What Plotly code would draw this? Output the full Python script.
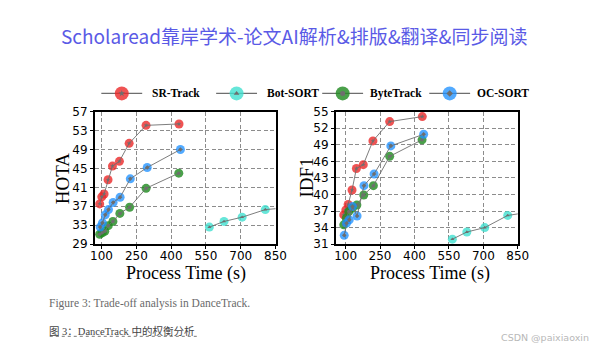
import plotly.graph_objects as go

# ---------------- data ----------------
methods = ["SR-Track", "Bot-SORT", "ByteTrack", "OC-SORT"]

time_sr = [92, 101, 111, 128, 147, 177, 219, 292, 434]
hota_sr = [37.5, 39.0, 39.6, 42.6, 45.5, 46.5, 50.3, 54.1, 54.4]
idf1_sr = [36.3, 37.2, 38.2, 40.8, 44.7, 45.4, 49.7, 53.2, 54.1]

time_bot = [565, 628, 706, 806, 900]
hota_bot = [32.6, 33.8, 34.7, 36.3, 36.7]
idf1_bot = [31.9, 33.2, 34.0, 36.2, 36.8]

time_bt = [92, 103, 114, 129, 149, 179, 221, 292, 433]
hota_bt = [31.1, 31.4, 31.7, 32.9, 33.8, 35.5, 36.8, 40.8, 44.0]
idf1_bt = [34.5, 35.7, 36.9, 37.5, 38.1, 39.9, 41.6, 46.9, 49.9]

time_oc = [94, 104, 116, 130, 150, 180, 224, 297, 440]
hota_oc = [32.6, 33.5, 35.2, 36.3, 37.8, 38.9, 42.8, 45.2, 49.0]
idf1_oc = [32.6, 34.8, 35.4, 37.8, 36.1, 41.6, 43.7, 48.8, 50.9]

x_ticks = [100, 250, 400, 550, 700, 850]
hota_ticks = [29, 33, 37, 41, 45, 49, 53, 57]
idf1_ticks = [31, 34, 37, 40, 43, 46, 49, 52, 55]

# ---------------- styles ----------------
colors = {"SR-Track": "rgba(235,40,40,0.8)",
          "Bot-SORT": "rgba(64,224,208,0.8)",
          "ByteTrack": "rgba(34,139,34,0.82)",
          "OC-SORT": "rgba(30,144,255,0.77)"}
inner = {"SR-Track": "star", "Bot-SORT": "triangle-up",
         "ByteTrack": "circle", "OC-SORT": "diamond"}
GRAY = "#6e6e6e"

series = [
    ("SR-Track", time_sr, hota_sr, idf1_sr),
    ("Bot-SORT", time_bot, hota_bot, idf1_bot),
    ("ByteTrack", time_bt, hota_bt, idf1_bt),
    ("OC-SORT", time_oc, hota_oc, idf1_oc),
]

W, H = 594, 351
def px(x):
    return x / W
def py(y):
    return 1 - y / H

fig = go.Figure()

for name, t, h, f in series:
    for xa, ya, yv in (("x", "y", h), ("x2", "y2", f)):
        fig.add_trace(go.Scatter(x=t, y=yv, xaxis=xa, yaxis=ya, mode="markers",
                                 marker=dict(size=9, color=colors[name], line=dict(width=0)),
                                 showlegend=False, hoverinfo="skip"))
        fig.add_trace(go.Scatter(x=t, y=yv, xaxis=xa, yaxis=ya, mode="lines+markers",
                                 line=dict(color=GRAY, width=0.9),
                                 marker=dict(size=3.5, color=GRAY, symbol=inner[name]),
                                 showlegend=False, hoverinfo="skip"))

# legend (drawn on an overlay pixel axis limited to the legend band)
LEG_TOP, LEG_BOT = 78, 102
legend_centers = [120, 238, 347, 457]   # layout: circle centre of each entry (px)
legend_text_gap = [30, 30, 27, 27]
LEG_Y = 90
ann = []
for (name, t, h, f), cx, gap in zip(series, legend_centers, legend_text_gap):
    fig.add_trace(go.Scatter(x=[cx - 21, cx + 21], y=[LEG_Y, LEG_Y], xaxis="x3", yaxis="y3",
                             mode="lines", line=dict(color=GRAY, width=1.2),
                             showlegend=False, hoverinfo="skip"))
    fig.add_trace(go.Scatter(x=[cx], y=[LEG_Y], xaxis="x3", yaxis="y3", mode="markers",
                             marker=dict(size=14, color=colors[name]),
                             showlegend=False, hoverinfo="skip"))
    fig.add_trace(go.Scatter(x=[cx], y=[LEG_Y], xaxis="x3", yaxis="y3", mode="markers",
                             marker=dict(size=5, color=GRAY, symbol=inner[name]),
                             showlegend=False, hoverinfo="skip"))
    ann.append(dict(text=name, x=cx + gap, y=LEG_Y, xref="x3", yref="y3",
                    xanchor="left", yanchor="middle", showarrow=False, borderpad=0,
                    font=dict(family="Liberation Serif", size=11.5, color="black", weight="bold")))

axis_common = dict(showline=True, mirror=True, linecolor="black", linewidth=1.6,
                   ticks="outside", ticklen=3, tickwidth=1, tickcolor="black",
                   showgrid=True, gridcolor="#8c8c8c", griddash="4px,2.5px", gridwidth=1,
                   zeroline=False,
                   tickfont=dict(family="DejaVu Sans", size=12, color="black"))

fig.update_layout(
    width=W, height=H,
    margin=dict(l=0, r=0, t=0, b=0),
    paper_bgcolor="white", plot_bgcolor="rgba(0,0,0,0)",
    showlegend=False,
    xaxis=dict(domain=[px(92.3), px(278)], range=[71, 850], tickvals=x_ticks, anchor="y",
               ticklabelstandoff=-3, **axis_common),
    yaxis=dict(domain=[py(247), py(109)], range=[29, 57], tickvals=hota_ticks, anchor="x", **axis_common),
    xaxis2=dict(domain=[px(340), px(527)], range=[57.5, 850], tickvals=x_ticks, anchor="y2",
                ticklabelstandoff=-3, **axis_common),
    yaxis2=dict(domain=[py(247), py(109)], range=[31, 55], tickvals=idf1_ticks, anchor="x2", **axis_common),
    xaxis3=dict(domain=[0, 1], range=[0, W], visible=False, anchor="y3", fixedrange=True),
    yaxis3=dict(domain=[py(LEG_BOT), py(LEG_TOP)], range=[LEG_BOT, LEG_TOP], visible=False,
                anchor="x3", fixedrange=True),
)

ann.append(dict(text="Scholaread靠岸学术-论文AI解析&排版&翻译&同步阅读", x=px(297), y=py(29.5),
                xref="paper", yref="paper", xanchor="center", yanchor="middle", showarrow=False,
                font=dict(family="Noto Sans CJK SC", size=19, color="#5a5ae6")))
for label, xc in (("HOTA", 60), ("IDF1", 310)):
    ann.append(dict(text=label, x=px(xc), y=py(178), xref="paper", yref="paper", textangle=-90,
                    xanchor="center", yanchor="middle", showarrow=False,
                    font=dict(family="Liberation Serif", size=19, color="black")))
for xc in (186, 437):
    ann.append(dict(text="Process Time (s)", x=px(xc), y=py(277.5), xref="paper", yref="paper",
                    xanchor="center", yanchor="middle", showarrow=False, borderpad=0,
                    font=dict(family="Liberation Serif", size=18, color="black")))
ann.append(dict(text="Figure 3: Trade-off analysis in DanceTrack.", x=px(43), y=py(309),
                xref="paper", yref="paper", xanchor="left", yanchor="middle", showarrow=False,
                font=dict(family="Liberation Serif", size=11.5, color="#6a6a6a")))
ann.append(dict(text="图 3：DanceTrack 中的权衡分析", x=px(43), y=py(337),
                xref="paper", yref="paper", xanchor="left", yanchor="middle", showarrow=False,
                font=dict(family="Liberation Serif, Noto Sans CJK SC", size=10.5, color="#444444")))
ann.append(dict(text="CSDN @paixiaoxin", x=px(602), y=py(344),
                xref="paper", yref="paper", xanchor="right", yanchor="middle", showarrow=False,
                font=dict(family="DejaVu Sans", size=9.5, color="#b8b8b8")))
fig.update_layout(annotations=ann)

fig.add_shape(type="line", xref="paper", yref="paper", x0=px(46), x1=px(198), y0=py(343), y1=py(343),
              line=dict(color="#777777", width=1, dash="dot"))

fig.write_html("out.html")
